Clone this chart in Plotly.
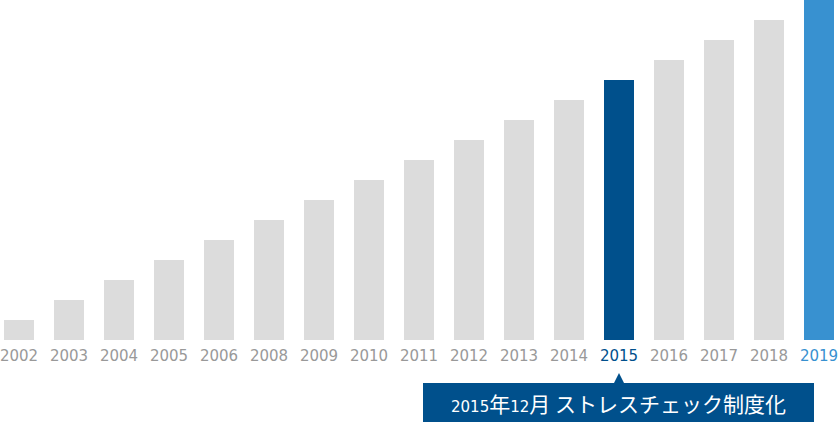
import plotly.graph_objects as go

years = ["2002", "2003", "2004", "2005", "2006", "2008", "2009", "2010", "2011",
         "2012", "2013", "2014", "2015", "2016", "2017", "2018", "2019"]
values = [1, 2, 3, 4, 5, 6, 7, 8, 9, 10, 11, 12, 13, 14, 15, 16, 17]
callout_year = "2015"
DIG = "font-family:DejaVu Sans;font-size:15px"
callout_text = (f"<span style='{DIG}'>2015</span>年"
                f"<span style='{DIG}'>12</span>月 ストレスチェック制度化")

GRAY = "#DCDCDC"
DARK = "#00508C"
LIGHT = "#3891D0"

def bar_color(y):
    if y == "2015":
        return DARK
    if y == "2019":
        return LIGHT
    return GRAY

def tick_label(y):
    c = {"2015": DARK, "2019": LIGHT}.get(y, "#999999")
    return f"<span style='color:{c}'>{y}</span>"

x = list(range(len(years)))

fig = go.Figure(go.Bar(
    x=x, y=values,
    width=0.6,
    marker=dict(color=[bar_color(y) for y in years], line=dict(width=0)),
    hoverinfo="skip",
))

fig.update_xaxes(
    range=[-0.38, 16.38],
    tickmode="array", tickvals=x, ticktext=[tick_label(y) for y in years],
    showgrid=False, zeroline=False, showline=False, ticks="",
    ticklabeloverflow="allow", ticklabelstandoff=5,
    tickfont=dict(family="DejaVu Sans, Verdana, sans-serif", size=15, color="#999999"),
)
fig.update_yaxes(range=[0, 17], visible=False, showgrid=False)

# callout box under 2015
cx = years.index(callout_year)
fig.add_shape(type="rect", xref="paper", yref="paper",
              x0=423 / 838, x1=814 / 838, y0=-82 / 340, y1=-43 / 340,
              fillcolor=DARK, line=dict(width=0), layer="above")
fig.add_shape(type="path", xref="x", yref="paper",
              path=f"M {cx - 0.1},{-43 / 340} L {cx},{-33 / 340} L {cx + 0.1},{-43 / 340} Z",
              fillcolor=DARK, line=dict(width=0))
fig.add_annotation(x=(423 + 814) / 2 / 838, y=-62.5 / 340, xref="paper", yref="paper",
                   text=callout_text, showarrow=False,
                   font=dict(family="Noto Sans CJK JP", size=21, color="white"),
                   xanchor="center", yanchor="middle")

fig.update_layout(
    width=838, height=424,
    margin=dict(l=0, r=0, t=0, b=84),
    paper_bgcolor="white", plot_bgcolor="white",
    showlegend=False, bargap=0,
)

# page has a default 8px body margin; drop it so the chart sits at the corner
fig.write_html("out.html", config={"displayModeBar": False},
               post_script="document.body.style.margin='0';")
